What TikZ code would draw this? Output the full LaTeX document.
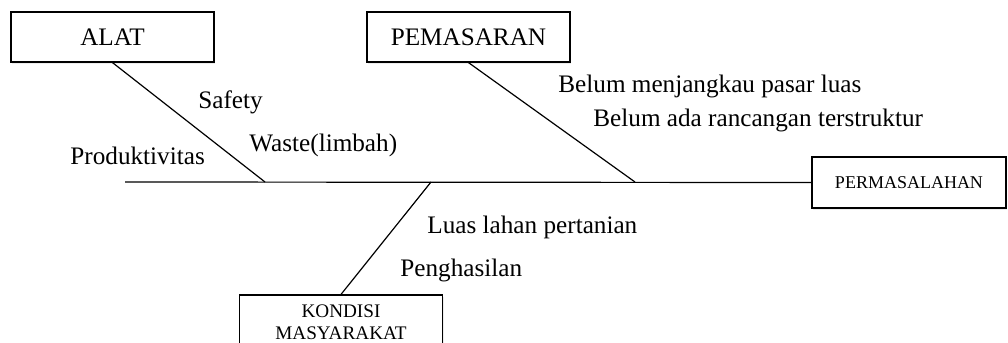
\documentclass[tikz,border=0pt]{standalone}
\usepackage{fontspec}
\setmainfont{Liberation Serif}
\usetikzlibrary{shadows}

\begin{document}
\begin{tikzpicture}[x=0.5pt,y=-0.5pt,
    kotak/.style={draw, semithick, fill=white, inner sep=0pt,
        minimum width=101.5pt, minimum height=25pt,
        drop shadow={opacity=0.15, shadow xshift=0.6pt, shadow yshift=-0.8pt},
        font=\fontsize{12.6}{15}\selectfont},
    teks/.style={anchor=base west, inner sep=0pt,
        font=\fontsize{12.6}{15}\selectfont}]
\useasboundingbox (0,0) rectangle (1008,343);

% kotak kategori
\node[kotak] (1) at (112.5,37) {ALAT};
\node[kotak] (2) at (468.5,37) {PEMASARAN};
\node[kotak, minimum width=97pt, minimum height=25.5pt,
    font=\fontsize{9}{11}\selectfont] (3) at (909,182.5) {PERMASALAHAN};
\node[kotak, minimum height=27pt, align=center,
    font=\fontsize{9.6}{11}\selectfont] (4) at (341,322)
    {KONDISI\\MASYARAKAT};

% titik pada tulang utama
\coordinate (10) at (125,182);
\coordinate (11) at (265,182);
\coordinate (12) at (431,182);
\coordinate (13) at (635,182);

\draw[style=semithick] (10)--(3.west);
\draw[style=semithick] (1.south)--(11);
\draw[style=semithick] (2.south)--(13);
\draw[style=semithick] (12)--(4.north);

% sebab
\node[teks] (21) at (198,108) {Safety};
\node[teks] (22) at (249,151) {Waste(limbah)};
\node[teks] (23) at (70,164) {Produktivitas};
\node[teks] (24) at (558,92) {Belum menjangkau pasar luas};
\node[teks] (25) at (593,126) {Belum ada rancangan terstruktur};
\node[teks] (26) at (427,233) {Luas lahan pertanian};
\node[teks] (27) at (400,276) {Penghasilan};

\end{tikzpicture}
\end{document}
